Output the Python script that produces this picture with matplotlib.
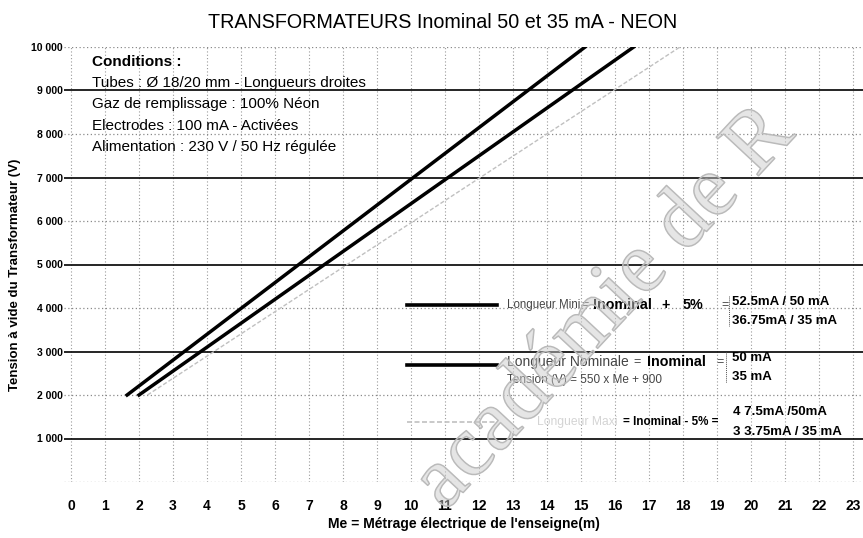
import matplotlib
matplotlib.use("Agg")
import matplotlib.pyplot as plt
from matplotlib import font_manager
from matplotlib.lines import Line2D
import matplotlib.patheffects as pe

# ---- data ----
me_mini = [1.65, 15.12]          # Longueur Mini  (I nominal + 5%)
v_mini = [2000, 10000]
me_nominal = [2.0, 16.55]        # Tension (V) = 550 x Me + 900
v_nominal = [2000, 10000]
me_maxi = [2.25, 17.91]          # Longueur Maxi (I nominal - 5%)
v_maxi = [2000, 10000]

x_ticks = list(range(0, 24))
y_ticks = [1000, 2000, 3000, 4000, 5000, 6000, 7000, 8000, 9000, 10000]
y_tick_labels = ["1 000", "2 000", "3 000", "4 000", "5 000",
                 "6 000", "7 000", "8 000", "9 000", "10 000"]
solid_levels = [1000, 3000, 5000, 7000, 9000]
dotted_levels = [0, 2000, 4000, 6000, 8000, 10000]

conditions = [
    "Tubes : Ø 18/20 mm - Longueurs droites",
    "Gaz de remplissage : 100% Néon",
    "Electrodes : 100 mA - Activées",
    "Alimentation : 230 V / 50 Hz régulée",
]

W, H = 863, 538
names = {f.name for f in font_manager.fontManager.ttflist}
NARROW = "Liberation Sans Narrow" if "Liberation Sans Narrow" in names else "Liberation Sans"
SANS = "Liberation Sans"


def px(x, y):
    return x / W, 1 - y / H


def main():
    fig = plt.figure(figsize=(W / 100, H / 100), dpi=100)
    ax = fig.add_axes([64.2 / W, 56 / H, 799 / W, 435 / H])
    ax.set_xlim(-0.2, 23.3)
    ax.set_ylim(0, 10000)
    for s in ax.spines.values():
        s.set_visible(False)

    # grid
    for x in x_ticks:
        ax.axvline(x, color="#9a9a9a", lw=0.8, ls=(0, (1, 2)), zorder=1)
    for y in dotted_levels:
        ax.axhline(y, color="#8a8a8a", lw=0.9, ls=(0, (1, 2)), zorder=1)
    for y in solid_levels:
        ax.axhline(y, color="black", lw=1.2, zorder=2)

    # curves
    ax.plot(me_maxi, v_maxi, color="#c0c0c0", lw=1.0, ls=(0, (3, 1.5)), zorder=3)
    ax.plot(me_mini, v_mini, color="black", lw=2.5, zorder=4)
    ax.plot(me_nominal, v_nominal, color="black", lw=2.5, zorder=4)

    ax.set_xticks(x_ticks)
    ax.set_xticklabels([str(v) for v in x_ticks], family=NARROW,
                       fontweight="bold", fontsize=10)
    ax.set_yticks(y_ticks)
    ax.set_yticklabels(y_tick_labels, family=NARROW, fontweight="bold", fontsize=7.5)
    ax.tick_params(axis="x", length=0, pad=12)
    ax.tick_params(axis="y", length=0, pad=1)

    ax.set_xlabel("Me = Métrage électrique de l'enseigne(m)", family=NARROW,
                  fontweight="bold", fontsize=10, labelpad=3)
    fig.text(*px(15, 275), "Tension à vide du Transformateur (V)", family=NARROW,
             fontweight="bold", fontsize=9.5, rotation=90, ha="center", va="center")

    fig.text(*px(443, 23), "TRANSFORMATEURS Inominal 50 et 35 mA - NEON",
             family=SANS, fontsize=14.2, ha="center", va="center")

    # conditions block
    fig.text(*px(92, 62), "Conditions :", family=SANS, fontweight="bold",
             fontsize=11, va="center")
    for i, line in enumerate(conditions):
        fig.text(*px(92, 83 + 21.5 * i), line, family=SANS, fontsize=11, va="center")

    # legend block
    def sample(y, **kw):
        fig.add_artist(Line2D([407 / W, 497 / W], [1 - y / H] * 2, **kw))

    def bracket(x, y0, y1):
        fig.add_artist(Line2D([x / W] * 2, [1 - y0 / H, 1 - y1 / H],
                              color="#555555", lw=0.7, ls=(0, (1, 1))))

    def t(x, y, s, size=9.5, bold=False, color="black", ha="left", family=SANS):
        fig.text(*px(x, y), s, family=family, fontsize=size, va="center", ha=ha,
                 fontweight="bold" if bold else "normal", color=color)

    grey = "#454545"
    sample(305, color="black", lw=2.6)
    t(507, 305, "Longueur Mini", size=8.3, color=grey)
    t(581, 305, "=", size=9, color=grey)
    t(593, 305, "Inominal", size=10.3, bold=True)
    t(661, 305, "+", size=10.3, bold=True)
    t(683, 305, "5%", size=10.3, bold=True)
    t(721, 305, "=", size=9, color=grey)
    bracket(729, 296, 326)
    t(732, 302, "52.5mA / 50 mA", bold=True, family=NARROW)
    t(732, 321, "36.75mA / 35 mA", bold=True, family=NARROW)

    sample(365, color="black", lw=2.6)
    t(507, 362, "Longueur Nominale", size=10, color=grey)
    t(633, 362, "=", size=9, color=grey)
    t(647, 362, "Inominal", size=10.3, bold=True)
    t(716, 362, "=", size=9, color=grey)
    bracket(726, 352, 383)
    t(732, 358, "50 mA", bold=True, family=NARROW)
    t(732, 377, "35 mA", bold=True, family=NARROW)
    t(507, 380, "Tension (V) = 550 x Me + 900", size=8.5, color=grey)

    sample(422, color="#c0c0c0", lw=1.2, ls=(0, (3, 1.5)))
    t(617, 422, "Longueur Maxi", size=8.7, color="#d4d4d4", ha="right")
    t(623, 422, "= Inominal - 5% =", size=8.4, bold=True)
    t(733, 412, "4 7.5mA /50mA", bold=True, family=NARROW)
    t(733, 432, "3 3.75mA / 35 mA", bold=True, family=NARROW)

    # watermark
    fig.text(*px(445, 512), "académie de R", family="Liberation Serif",
             fontsize=63, rotation=47, rotation_mode="anchor", ha="left",
             va="baseline", color=(0.8, 0.8, 0.8, 0.28), zorder=10,
             path_effects=[pe.withStroke(linewidth=1.1, foreground="#b8b8b8")])

    fig.savefig("out.png", dpi=100)


if __name__ == "__main__":
    main()
